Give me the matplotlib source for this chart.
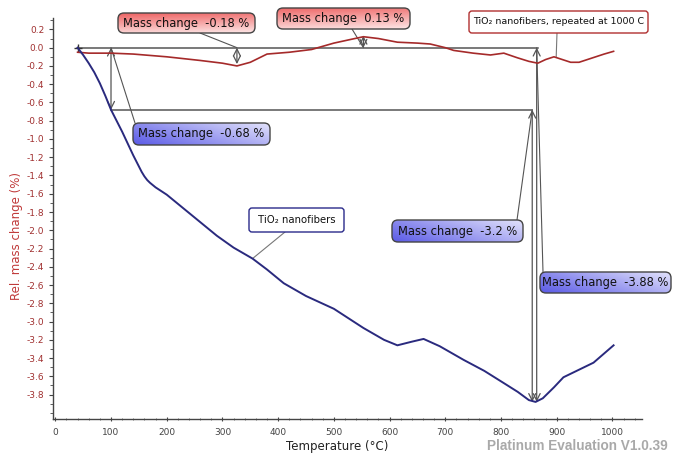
import numpy as np
import matplotlib
matplotlib.use("Agg")
import matplotlib.pyplot as plt
from matplotlib.patches import FancyBboxPatch
from matplotlib.transforms import Affine2D
from matplotlib.ticker import MultipleLocator, FormatStrFormatter

plt.rcParams["axes.unicode_minus"] = False

# ---- measured curves: temperature (°C) vs relative mass change (%) ----
temp_fibers = [40, 50, 60, 70, 80, 90, 100, 110, 120, 130, 140, 150, 155, 160,
               165, 170, 180, 190, 200, 230, 260, 290, 320, 354, 380, 410, 450,
               500, 553, 590, 614, 640, 661, 690, 733, 770, 804, 830, 850, 862,
               875, 895, 912, 939, 966, 1002]
mass_fibers = [0.0, -0.08, -0.17, -0.27, -0.39, -0.53, -0.68, -0.80, -0.92,
               -1.05, -1.18, -1.30, -1.36, -1.41, -1.45, -1.48, -1.53, -1.57,
               -1.61, -1.76, -1.91, -2.06, -2.19, -2.31, -2.43, -2.58, -2.72,
               -2.86, -3.07, -3.20, -3.26, -3.22, -3.19, -3.27, -3.42, -3.54,
               -3.67, -3.77, -3.86, -3.88, -3.84, -3.72, -3.61, -3.53, -3.45,
               -3.26]

temp_repeat = [40, 60, 80, 100, 140, 200, 260, 300, 326, 350, 380, 420, 460,
               500, 530, 553, 580, 614, 650, 673, 700, 715, 750, 781, 805, 829,
               850, 866, 880, 895, 910, 925, 940, 960, 985, 1002]
mass_repeat = [-0.05, -0.06, -0.06, -0.06, -0.07, -0.10, -0.14, -0.17, -0.20,
               -0.16, -0.07, -0.05, -0.02, 0.05, 0.09, 0.12, 0.10, 0.06, 0.05,
               0.04, 0.00, -0.03, -0.06, -0.08, -0.06, -0.11, -0.15, -0.17,
               -0.13, -0.10, -0.13, -0.16, -0.16, -0.12, -0.07, -0.04]

# ---- step evaluations (temperature, start level, change) ----
step_labels = ["Mass change  -0.18 %", "Mass change  0.13 %",
               "Mass change  -0.68 %", "Mass change  -3.2 %",
               "Mass change  -3.88 %"]
step_temps = [326, 553, 100, 856, 864]
step_start = [0.0, 0.0, 0.0, -0.68, 0.0]
step_change = [-0.18, 0.13, -0.68, -3.2, -3.88]

# reference levels drawn as horizontal guide lines
ref_levels = [0.0, -0.68]
ref_from = [40, 100]
ref_to = [866, 856]

curve_labels = ["TiO\u2082 nanofibers", "TiO\u2082 nanofibers, repeated at 1000 C"]

W, H = 673, 458
fig = plt.figure(figsize=(W / 100, H / 100), dpi=100)
ax = fig.add_axes([52.5 / W, 39 / H, (642 - 52.5) / W, (419 - 18) / H])

BLUE = "#2a2a7e"
RED = "#a52a2a"
GUIDE = "#555555"

ax.plot(temp_repeat, mass_repeat, color=RED, lw=1.2, zorder=3)
ax.plot(temp_fibers, mass_fibers, color=BLUE, lw=1.4, zorder=3)

for lvl, a, b in zip(ref_levels, ref_from, ref_to):
    ax.plot([a, b], [lvl, lvl], color=GUIDE, lw=1.1, zorder=2)
ax.plot([40], [0.0], marker="+", color="#333333", ms=6, mew=1.0)

for t, s, d in zip(step_temps, step_start, step_change):
    ax.annotate("", xy=(t, s + d), xytext=(t, s),
                arrowprops=dict(arrowstyle="<->,head_length=0.5,head_width=0.25",
                                color=GUIDE, lw=0.9, shrinkA=0, shrinkB=0),
                annotation_clip=False, zorder=2)

ax.set_xlim(-5, 1053)
ax.set_ylim(-4.067, 0.325)
ax.xaxis.set_major_locator(MultipleLocator(100))
ax.xaxis.set_minor_locator(MultipleLocator(20))
ax.yaxis.set_minor_locator(MultipleLocator(0.1))
ax.yaxis.set_major_formatter(FormatStrFormatter("%.1f"))
ax.set_yticks(np.round(np.arange(0.2, -3.81, -0.2), 1))

for side in ("top", "right"):
    ax.spines[side].set_visible(False)
for side in ("left", "bottom"):
    ax.spines[side].set_color("#444444")
    ax.spines[side].set_linewidth(1.0)

ax.tick_params(axis="y", which="major", direction="out", length=3, width=0.8,
               color="#444444", labelsize=6.5, labelcolor="#a03030", pad=3)
ax.tick_params(axis="y", which="minor", direction="out", length=2, width=0.6,
               color="#444444")
ax.tick_params(axis="x", which="major", direction="inout", length=3, width=0.8,
               color="#444444", labelsize=6.5, labelcolor="#444444", pad=5)
ax.tick_params(axis="x", which="minor", direction="inout", length=2, width=0.6,
               color="#666666")

ax.set_xlabel("Temperature (\u00b0C)", fontsize=8.5, color="#222222")
ax.xaxis.set_label_coords(0.483, -0.053)
ax.set_ylabel("Rel. mass change (%)", fontsize=8.5, color="#c03a3a")
ax.yaxis.set_label_coords(-0.05, 0.456)

px = Affine2D().scale(1 / 100) + fig.dpi_scale_trans


def pix(x, y):
    # top-left based pixel position to figure pixels
    return (x, H - y)


def callout(x0, y0, x1, y1, text, c_strong, c_light, edge, mode, fs, rs=6):
    left, bottom = x0, H - y1
    w, h = x1 - x0, y1 - y0
    bax = fig.add_axes([left / W, bottom / H, w / W, h / H])
    bax.axis("off")
    if mode == "white":
        img = np.ones((4, 4, 3))
    else:
        u = np.linspace(0, 1, 120)[None, :]
        v = np.linspace(0, 1, 30)[:, None]
        if mode == "red":
            t = 0.85 * (1 - v) + 0.15 * (1 - u)  # strong at top
        else:
            t = 0.65 * (1 - u) + 0.35 * v  # strong at lower left
        t = np.clip(t, 0, 1)[..., None]
        cs = np.array(matplotlib.colors.to_rgb(c_strong))
        cl = np.array(matplotlib.colors.to_rgb(c_light))
        img = cl + (cs - cl) * t
    im = bax.imshow(img, extent=[0, 1, 0, 1], aspect="auto", origin="upper",
                    interpolation="bilinear")
    clip = FancyBboxPatch((left, bottom), w, h,
                          boxstyle=f"round,pad=0,rounding_size={rs}",
                          transform=px)
    im.set_clip_path(clip)
    border = FancyBboxPatch((left, bottom), w, h,
                            boxstyle=f"round,pad=0,rounding_size={rs}",
                            transform=px, facecolor="none", edgecolor=edge,
                            lw=1.0, zorder=4)
    fig.add_artist(border)
    fig.text((left + w / 2) / W, (bottom + h / 2) / H, text, fontsize=fs,
             ha="center", va="center", color="#111111", zorder=5)


def leader(x_img, y_img, xd, yd, color=GUIDE):
    ax.annotate("", xy=(xd, yd), xytext=pix(x_img, y_img),
                textcoords="figure pixels",
                arrowprops=dict(arrowstyle="-", color=color, lw=0.8,
                                shrinkA=0, shrinkB=0),
                annotation_clip=False, zorder=2)


# leader lines from the labels to their evaluation points
leader(200, 33, step_temps[0], step_start[0])
leader(352, 29, step_temps[1], step_start[1])
leader(135, 123, step_temps[2], step_start[2])
leader(517, 220, step_temps[3], step_start[3])
leader(543, 272, step_temps[4], step_start[4])
leader(285, 232, 354, -2.31, color="#777777")
leader(557, 33, 899, -0.10, color="#777777")

RED_S, RED_L = "#ee6464", "#fde6e6"
BLU_S, BLU_L = "#5a5ae6", "#e2e2fb"
callout(118, 13, 255, 33, step_labels[0], RED_S, RED_L, "#444444", "red", 8.3)
callout(277, 8, 410, 29, step_labels[1], RED_S, RED_L, "#444444", "red", 8.3)
callout(133, 123, 270, 145, step_labels[2], BLU_S, BLU_L, "#444444", "blue", 8.3)
callout(392, 220, 523, 242, step_labels[3], BLU_S, BLU_L, "#444444", "blue", 8.3)
callout(540, 272, 671, 293, step_labels[4], BLU_S, BLU_L, "#444444", "blue", 8.3)
callout(249, 208, 344, 232, curve_labels[0], "white", "white", "#2a2a8a",
        "white", 7.3, rs=3)
callout(469, 11, 648, 33, curve_labels[1], "white", "white", "#b03030",
        "white", 6.8, rs=3)

fig.text(668 / W, 5 / H, "Platinum Evaluation V1.0.39", fontsize=9.8,
         fontweight="bold", color="#a9a9a9", ha="right", va="bottom",
         family=["Liberation Sans", "DejaVu Sans"])

fig.savefig("out.png", dpi=100, facecolor="white")
